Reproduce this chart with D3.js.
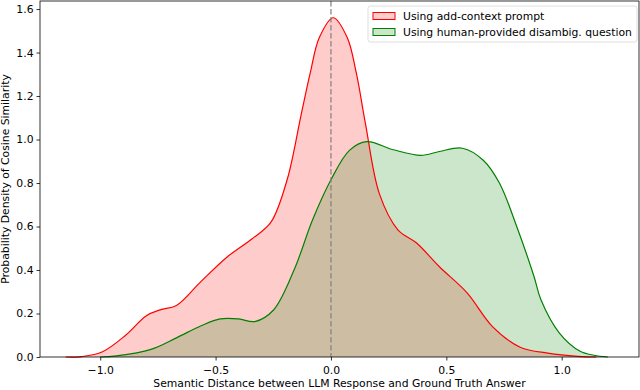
<!DOCTYPE html>
<html>
<head>
<meta charset="utf-8">
<script src="https://cdn.jsdelivr.net/npm/d3@7"></script>
<style>
  body { margin: 0; background: #fff; }
  svg { display: block; font-family: "DejaVu Sans", sans-serif; }
</style>
</head>
<body>
<svg id="chart" width="640" height="390"></svg>
<script>
// x positions and density values
const redX = [-1.15, -1.08, -0.99, -0.89, -0.80, -0.74, -0.67, -0.57, -0.45, -0.34, -0.26, -0.19, -0.13, -0.09, -0.05, 0.01, 0.07, 0.11, 0.15, 0.21, 0.29, 0.37, 0.47, 0.59, 0.70, 0.82, 0.94, 1.07, 1.15];
const redY = [0, 0.002, 0.024, 0.10, 0.19, 0.217, 0.237, 0.34, 0.46, 0.545, 0.62, 0.815, 1.11, 1.305, 1.47, 1.56, 1.47, 1.305, 1.07, 0.75, 0.585, 0.525, 0.415, 0.295, 0.14, 0.045, 0.018, 0.003, 0];

const greenX = [-1.0, -0.93, -0.78, -0.67, -0.56, -0.48, -0.40, -0.33, -0.25, -0.16, -0.08, 0.0, 0.08, 0.155, 0.27, 0.39, 0.47, 0.57, 0.66, 0.73, 0.805, 0.88, 0.91, 0.99, 1.08, 1.14, 1.2];
const greenY = [0, 0.005, 0.035, 0.088, 0.145, 0.175, 0.175, 0.163, 0.215, 0.40, 0.63, 0.815, 0.95, 0.99, 0.953, 0.927, 0.945, 0.96, 0.905, 0.80, 0.60, 0.37, 0.263, 0.11, 0.026, 0.008, 0];

const xTicks = [-1.0, -0.5, 0.0, 0.5, 1.0];
const yTicks = [0.0, 0.2, 0.4, 0.6, 0.8, 1.0, 1.2, 1.4, 1.6];
const seriesNames = ["Using add-context prompt", "Using human-provided disambig. question"];
const seriesColors = ["red", "green"];

const fs = 10.8;
const margin = {top: 1, right: 1, bottom: 33, left: 40};
const svg = d3.select("#chart");
const width = 640 - margin.left - margin.right;
const height = 390 - margin.top - margin.bottom;

const x = d3.scaleLinear().domain([-1.261, 1.335]).range([0, width]);
const y = d3.scaleLinear().domain([0, 1.637]).range([height, 0]);

const g = svg.append("g").attr("transform", "translate(" + margin.left + "," + margin.top + ")");

const series = [
  redX.map((v, i) => [v, redY[i]]),
  greenX.map((v, i) => [v, greenY[i]])
];

const area = d3.area().x(d => x(d[0])).y0(y(0)).y1(d => y(d[1])).curve(d3.curveCatmullRom.alpha(0.5));
const line = d3.line().x(d => x(d[0])).y(d => y(d[1])).curve(d3.curveCatmullRom.alpha(0.5));

series.forEach((s, i) => {
  g.append("path").datum(s)
    .attr("fill", seriesColors[i]).attr("fill-opacity", 0.2)
    .attr("d", area);
});
series.forEach((s, i) => {
  g.append("path").datum(s)
    .attr("fill", "none").attr("stroke", seriesColors[i]).attr("stroke-width", 1.2)
    .attr("d", line);
});

// dashed line at zero
g.append("line")
  .attr("x1", x(0)).attr("x2", x(0)).attr("y1", 0).attr("y2", height)
  .attr("stroke", "#808080").attr("stroke-opacity", 0.8).attr("stroke-width", 1.5).attr("stroke-dasharray", "5.5,2.5");

// axes
const xAxis = d3.axisBottom(x).tickValues(xTicks).tickFormat(d => d3.format(".1f")(d).replace("-", "\u2212")).tickSize(3.5);
const yAxis = d3.axisLeft(y).tickValues(yTicks).tickFormat(d3.format(".1f")).tickSize(3.5);
const gx = g.append("g").attr("transform", "translate(0," + height + ")").call(xAxis);
const gy = g.append("g").call(yAxis);
[gx, gy].forEach(a => {
  a.select(".domain").remove();
  a.selectAll("text").attr("font-size", fs).attr("font-family", "DejaVu Sans").attr("fill", "#000");
  a.selectAll("line").attr("stroke", "#000").attr("stroke-width", 0.8);
});
gx.selectAll("text").attr("dy", "1.0em");

g.append("rect").attr("width", width).attr("height", height)
  .attr("fill", "none").attr("stroke", "#000").attr("stroke-width", 0.8);

// axis labels
svg.append("text")
  .attr("x", margin.left + width / 2).attr("y", 387)
  .attr("text-anchor", "middle").attr("font-size", fs)
  .text("Semantic Distance between LLM Response and Ground Truth Answer");
svg.append("text")
  .attr("transform", "translate(9," + (margin.top + height / 2) + ") rotate(-90)")
  .attr("text-anchor", "middle").attr("font-size", fs)
  .text("Probability Density of Cosine Similarity");

// legend
const legend = svg.append("g").attr("transform", "translate(368,6)");
legend.append("rect").attr("width", 269).attr("height", 36).attr("rx", 2.5)
  .attr("fill", "#fff").attr("fill-opacity", 0.8).attr("stroke", "#d6d6d6").attr("stroke-width", 0.8);
seriesNames.forEach((name, i) => {
  const row = legend.append("g").attr("transform", "translate(0," + (10 + i * 16) + ")");
  row.append("rect").attr("x", 5).attr("y", -3.5).attr("width", 22).attr("height", 7)
    .attr("fill", seriesColors[i]).attr("fill-opacity", 0.2)
    .attr("stroke", seriesColors[i]).attr("stroke-width", 1);
  row.append("text").attr("x", 35).attr("y", 4).attr("font-size", fs).text(name);
});
</script>
</body>
</html>
